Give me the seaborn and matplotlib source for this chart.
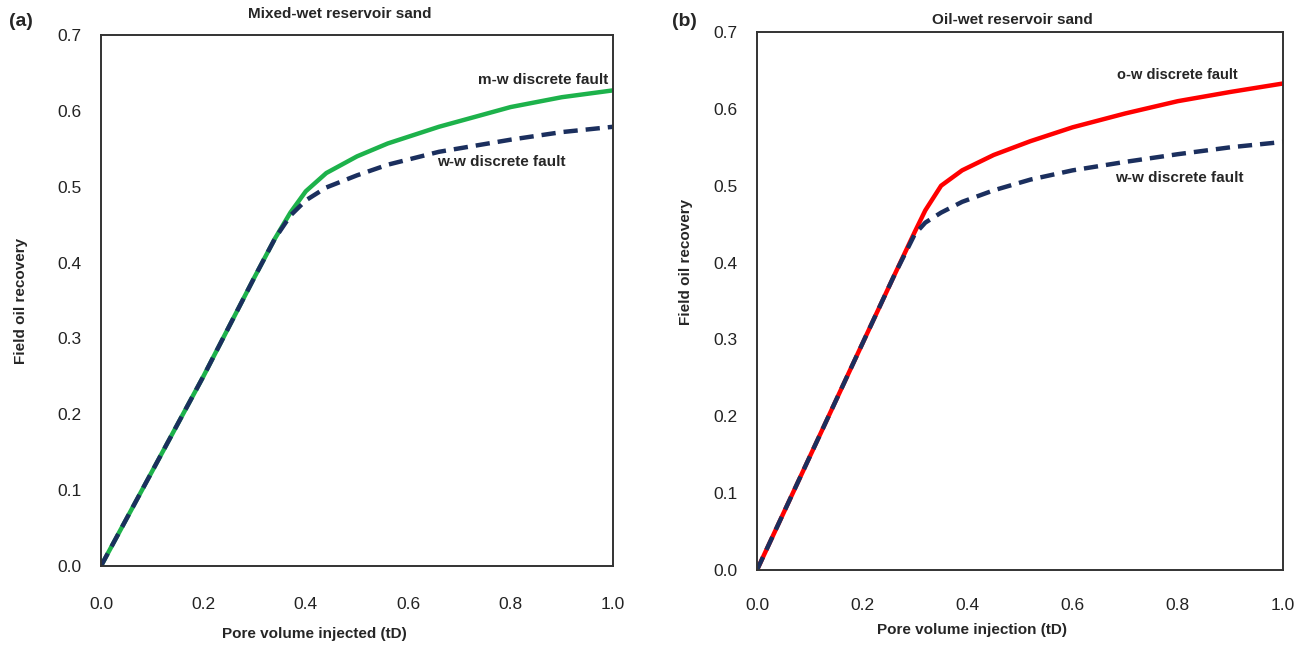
import numpy as np
import pandas as pd
import matplotlib
matplotlib.use("Agg")
import matplotlib.pyplot as plt
import seaborn as sns

# ---- data ----
pv_a = [0.0, 0.1, 0.2, 0.3, 0.34, 0.37, 0.40, 0.44, 0.5, 0.56, 0.66, 0.8, 0.9, 1.0]
mw_fault = [0.0, 0.125, 0.25, 0.381, 0.432, 0.466, 0.494, 0.518, 0.540, 0.557, 0.579, 0.605, 0.618, 0.627]
ww_fault_a = [0.0, 0.125, 0.25, 0.381, 0.432, 0.462, 0.482, 0.499, 0.515, 0.529, 0.546, 0.562, 0.572, 0.579]

pv_b = [0.0, 0.1, 0.2, 0.26, 0.30, 0.32, 0.35, 0.39, 0.45, 0.52, 0.6, 0.7, 0.8, 0.9, 1.0]
ow_fault = [0.0, 0.147, 0.294, 0.382, 0.440, 0.468, 0.500, 0.520, 0.540, 0.558, 0.576, 0.594, 0.610, 0.622, 0.633]
ww_fault_b = [0.0, 0.147, 0.294, 0.382, 0.437, 0.452, 0.465, 0.479, 0.494, 0.508, 0.520, 0.531, 0.541, 0.550, 0.557]

x_ticks = [0.0, 0.2, 0.4, 0.6, 0.8, 1.0]
y_ticks = [0.0, 0.1, 0.2, 0.3, 0.4, 0.5, 0.6, 0.7]

sns.set_style("white")
plt.rcParams['font.family'] = ['Liberation Sans', 'DejaVu Sans']

GREEN = '#1DB24B'
RED = '#FF0000'
NAVY = '#1B2F5E'

fig = plt.figure(figsize=(13.13, 6.45), dpi=100)
axA = fig.add_axes([101/1313, 1-566/645, 512/1313, 531/645])
axB = fig.add_axes([757/1313, 1-570/645, 526/1313, 538/645])

def style(ax, pad_x, pad_y):
    ax.set_xlim(0, 1.0)
    ax.set_ylim(0, 0.7)
    ax.set_xticks(x_ticks)
    ax.set_yticks(y_ticks)
    ax.set_xticklabels([f"{v:.1f}" for v in x_ticks])
    ax.set_yticklabels([f"{v:.1f}" for v in y_ticks])
    ax.tick_params(axis='x', length=0, pad=pad_x, labelsize=12.5, colors='#222222')
    ax.tick_params(axis='y', length=0, pad=pad_y, labelsize=12.5, colors='#222222')
    for s in ax.spines.values():
        s.set_visible(True)
        s.set_color('#333333')
        s.set_linewidth(1.4)
    ax.grid(False)

def draw(ax, df, col, color):
    sns.lineplot(data=df, x='x', y=col, ax=ax, color=color, linewidth=3.2)
    ln = ax.lines[-1]
    ln.set_solid_joinstyle('round')
    ln.set_dash_joinstyle('round')
    return ln

# Panel (a)
dfa = pd.DataFrame({'x': pv_a, 'mw': mw_fault, 'ww': ww_fault_a})
draw(axA, dfa, 'mw', GREEN)
draw(axA, dfa, 'ww', NAVY).set_dashes((3.2, 1.8))
style(axA, 22, 14)
axA.set_xlabel('Pore volume injected (tD)', fontsize=11, fontweight='bold')
axA.set_ylabel('Field oil recovery', fontsize=11, fontweight='bold')
axA.xaxis.set_label_coords(0.416, -0.115)
axA.yaxis.set_label_coords(-0.142, 0.50)
axA.text(0.99, 0.641, 'm-w discrete fault', ha='right', va='center', fontsize=11, fontweight='bold')
axA.text(0.656, 0.533, 'w-w discrete fault', ha='left', va='center', fontsize=11, fontweight='bold')

# Panel (b)
dfb = pd.DataFrame({'x': pv_b, 'ow': ow_fault, 'ww': ww_fault_b})
draw(axB, dfb, 'ow', RED)
draw(axB, dfb, 'ww', NAVY).set_dashes((3.2, 1.8))
style(axB, 20, 14)
axB.set_xlabel('Pore volume injection (tD)', fontsize=11, fontweight='bold')
axB.set_ylabel('Field oil recovery', fontsize=11, fontweight='bold')
axB.xaxis.set_label_coords(0.409, -0.099)
axB.yaxis.set_label_coords(-0.122, 0.572)
axB.text(0.684, 0.644, 'o-w discrete fault', ha='left', va='center', fontsize=10.5, fontweight='bold')
axB.text(0.681, 0.51, 'w-w discrete fault', ha='left', va='center', fontsize=11, fontweight='bold')

# titles and panel letters
fig.text(340/1313, 1-14/645, 'Mixed-wet reservoir sand', ha='center', va='center', fontsize=11, fontweight='bold')
fig.text(1012/1313, 1-20/645, 'Oil-wet reservoir sand', ha='center', va='center', fontsize=11, fontweight='bold')
fig.text(21/1313, 1-21/645, '(a)', ha='center', va='center', fontsize=14, fontweight='bold')
fig.text(684/1313, 1-22/645, '(b)', ha='center', va='center', fontsize=14, fontweight='bold')

fig.savefig('out.png', dpi=100, facecolor='white')
